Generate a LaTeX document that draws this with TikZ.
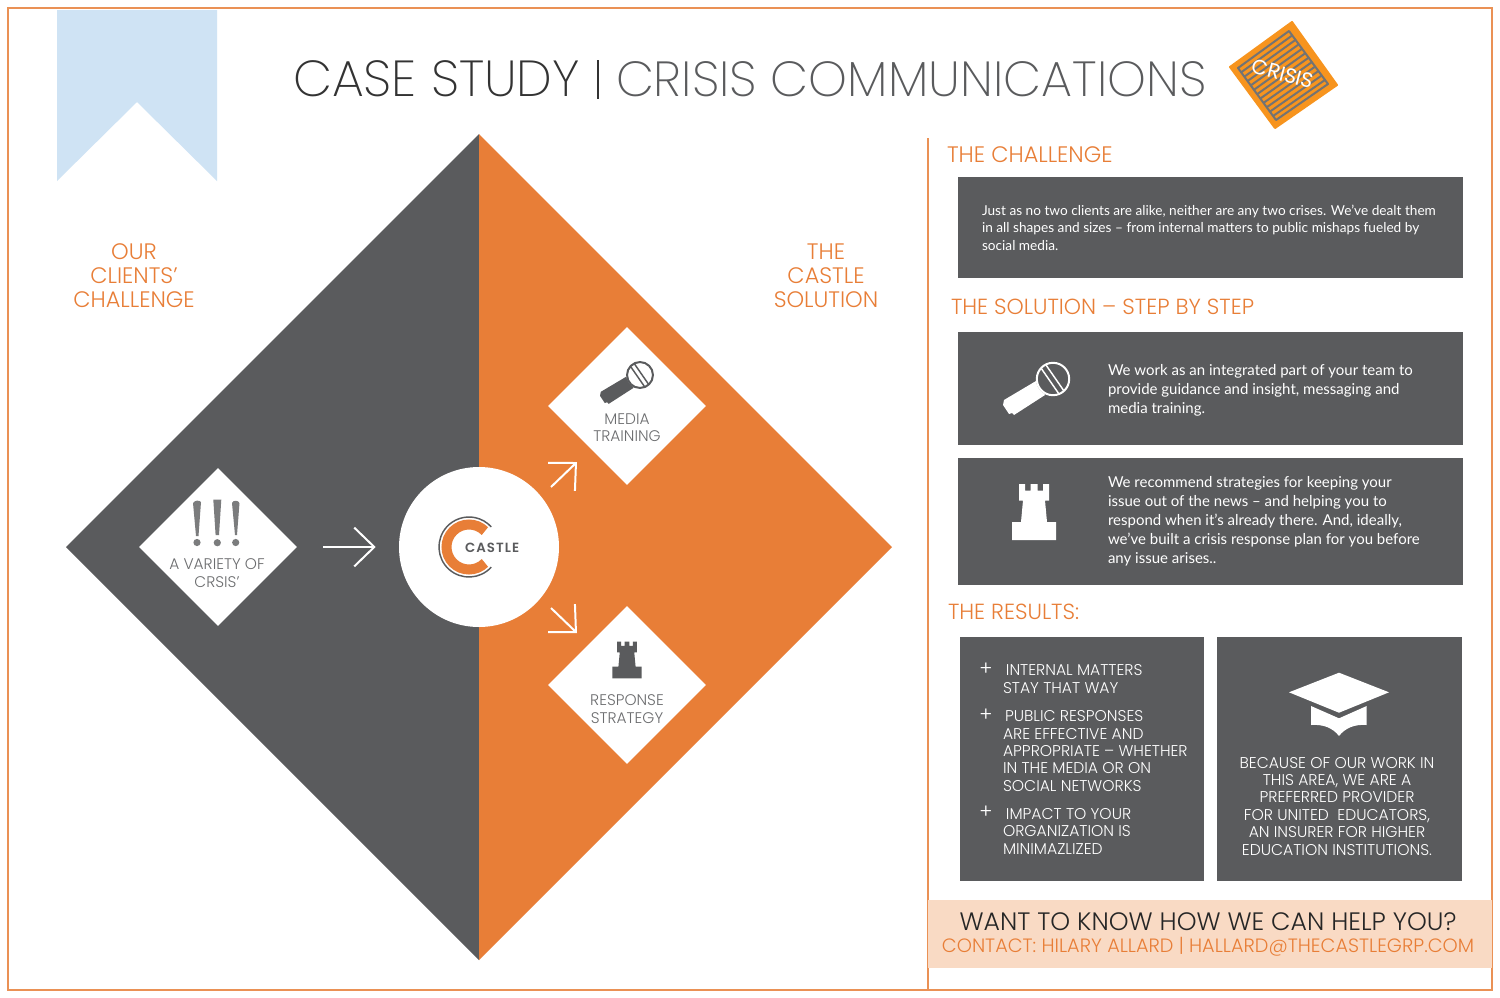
\documentclass[tikz,border=0pt]{standalone}
\usepackage{fontspec}
\usetikzlibrary{shapes.geometric,arrows.meta,calc}
\setmainfont{Lato}
\newfontfamily\headfont{Poppins}[UprightFont=* Light]
\newfontfamily\titlefont{Poppins}[UprightFont=* ExtraLight]
\newfontfamily\boldfont{Poppins}[UprightFont=* SemiBold,LetterSpace=8]
\newfontfamily\badgefont{Poppins}
\definecolor{slate}{HTML}{5A5B5D}
\definecolor{brand}{HTML}{E87E37}
\definecolor{framec}{HTML}{EA9155}
\definecolor{peach}{HTML}{F9DAC4}
\definecolor{ribbon}{HTML}{CFE3F4}
\definecolor{crisisor}{HTML}{F7941E}
\definecolor{labelgray}{HTML}{6C6D6F}
\tikzset{
  panel/.style={fill=slate,draw=none,inner sep=0pt},
  whitediamond/.style={diamond,aspect=1,fill=white,draw=none,inner sep=0pt,minimum width=118.5pt,minimum height=118.5pt},
  bigarrow/.style={draw=white,line width=1.5pt,-{Straight Barb[length=15pt,width=29pt,line width=1.5pt]}},
  txt/.style={inner sep=0pt,outer sep=0pt},
  headline/.style={txt,anchor=base west,text=brand,font=\headfont\fontsize{16.4}{18}\selectfont},
  sidelabel/.style={txt,align=center,text=brand,font=\headfont\fontsize{16.8}{18}\selectfont},
  diamondlabel/.style={txt,align=center,text=labelgray,font=\headfont\fontsize{11.55}{12.9}\selectfont},
  bodysmall/.style={txt,anchor=base west,align=left,text=white,font=\fontsize{10.24}{12.9}\selectfont},
  bodylarge/.style={txt,anchor=base west,align=left,text=white,font=\fontsize{11.26}{14.25}\selectfont},
  resulttext/.style={txt,anchor=base west,align=left,text=white,font=\headfont\fontsize{11.7}{12.95}\selectfont},
  resultcenter/.style={txt,anchor=base,align=center,text=white,font=\headfont\fontsize{11.7}{13.05}\selectfont},
}
\newcommand{\micicon}[5]{% x,y,scale,ink,hole
  \begin{scope}[shift={(#1,#2)},scale=#3]
    \fill[#4] (-17,2) -- (-8,16) -- (-39,36) -- (-41,34) -- (-44,35) -- (-50,26) -- (-49,21) -- cycle;
    \fill[#5] (0,0) circle (17);
    \draw[#4,line width=1.5pt] (0,0) circle (16.2);
    \draw[#4,line width=1.1pt] (-12,-11) -- (6,15) (-7,-14) -- (11,12);
  \end{scope}}
\newcommand{\towericon}[4]{% x,y,scale,ink
  \begin{scope}[shift={(#1,#2)},scale=#3]
    \fill[#4] (-22,28) -- (-22,10) -- (-13,10) -- (-11,-11.5) -- (-15,-11.5) -- (-15,-28) -- (-9,-28) -- (-9,-21.5) -- (-3.5,-21.5) -- (-3.5,-28) -- (3.5,-28) -- (3.5,-21.5) -- (9,-21.5) -- (9,-28) -- (15,-28) -- (15,-11.5) -- (11,-11.5) -- (13,10) -- (22,10) -- (22,28) -- cycle;
  \end{scope}}
\begin{document}
\begin{tikzpicture}[x=0.75pt,y=-0.75pt]
\useasboundingbox (0,0) rectangle (1500,997);
\fill[white] (0,0) rectangle (1500,997);
% frame, ribbon
\draw[framec,line width=1.1pt] (8,8) rectangle (1492,990);
\fill[ribbon] (57,10) -- (217,10) -- (217,181) -- (137,102) -- (57,181) -- cycle;
% title
\node[txt,anchor=base west,text=black!80,font=\titlefont\fontsize{38}{40}\selectfont] (titleA) at (293,96.5) {CASE STUDY};
\node[txt,anchor=base west,text=slate,font=\titlefont\fontsize{37}{40}\selectfont] (titleB) at (616,96.5) {CRISIS COMMUNICATIONS};
\draw[black!80,line width=1.2pt] (598,60) -- (598,99);
% crisis badge
\coordinate (bT) at (1292,22); \coordinate (bR) at (1337,85); \coordinate (bB) at (1275,128); \coordinate (bL) at (1230,67);
\fill[crisisor,draw=crisisor,line width=1.5pt,line join=round] (bT) -- (bR) -- (bB) -- (bL) -- cycle;
\coordinate (gT) at (1289,31); \coordinate (gR) at (1328,84); \coordinate (gB) at (1276,120); \coordinate (gL) at (1238,68);
\draw[gray!90!black,line width=1.5pt,line join=round] (gT) -- (gR) -- (gB) -- (gL) -- cycle;
\foreach \t in {0.083,0.167,...,0.95}
  \draw[gray!90!black,line width=1.5pt] ($(gL)!\t!(gB)$) -- ($(gT)!\t!(gR)$);
\node[txt,rotate=-15,text=white,font=\badgefont\fontsize{15.5}{18}\selectfont] (crisis) at (1283,74) {CRISIS};
% big diamond
\fill[slate] (479,134) -- (479,960) -- (66,547) -- cycle;
\fill[brand] (479,134) -- (892,547) -- (479,960) -- cycle;
\node[sidelabel,anchor=center] (ourlabel) at (134,276) {OUR\\CLIENTS’\\CHALLENGE};
\node[sidelabel,anchor=center] (castlelabel) at (826,276) {THE\\CASTLE\\SOLUTION};
% white shapes
\node[whitediamond] (variety) at (218,547) {};
\node[whitediamond] (media) at (627,406) {};
\node[whitediamond] (response) at (627,685) {};
\node[circle,fill=white,draw=none,inner sep=0pt,minimum size=120pt] (castle) at (479,547) {};
% exclamation marks
\begin{scope}
  \fill[slate!80!white] (193,503) .. controls (195,500) and (199,500) .. (201,502) -- (198.5,536) -- (196,536) -- cycle;
  \fill[slate!80!white] (213.3,499.5) -- (221.3,499.5) -- (219,535) -- (215.6,535) -- cycle;
  \fill[slate!80!white] (232,503) .. controls (233,500) and (238,500) .. (239.5,503) -- (237,535) -- (235,535) -- cycle;
  \fill[slate!80!white] (197,542.5) circle (3.6) (217.3,542.7) circle (3.6) (235.7,542.5) circle (3.6);
\end{scope}
\node[diamondlabel,anchor=center] (varietylabel) at (217,573) {A VARIETY OF\\CRSIS’};
\micicon{640}{375}{0.8}{slate}{white}
\node[diamondlabel,anchor=center] (medialabel) at (627,428) {MEDIA\\TRAINING};
\towericon{627}{660}{0.66}{slate}
\node[diamondlabel,anchor=center] (responselabel) at (627,709) {RESPONSE\\STRATEGY};
% castle logo
\draw[slate,line width=1.1pt] ($(469,547)+(42:30)$) arc[start angle=42,end angle=318,radius=30];
\draw[brand,line width=7.5pt] ($(469,547)+(45:22.5)$) arc[start angle=45,end angle=315,radius=22.5];
\node[txt,anchor=base west,text=slate,font=\boldfont\fontsize{10}{11}\selectfont] (castlename) at (465,552) {CASTLE};
% arrows
\draw[bigarrow,shorten <=19.5pt,shorten >=17.25pt] (variety) -- (castle);
\coordinate (upS) at (551,487); \coordinate (upE) at (577,462);
\coordinate (dnS) at (551,608); \coordinate (dnE) at (577,633);
\draw[bigarrow] (upS) -- (upE);
\draw[bigarrow] (dnS) -- (dnE);
% right column
\draw[framec,line width=1.1pt] (928,138) -- (928,990);
\node[headline,font=\headfont\fontsize{16.8}{18}\selectfont] (h1) at (947,162) {THE CHALLENGE};
\node[panel,minimum width=378.75pt,minimum height=75.75pt] (p1) at (1210.5,227.5) {};
\node[bodysmall] (p1text) at (982,250) {Just as no two clients are alike, neither are any two crises. We’ve dealt them\\in all shapes and sizes – from internal matters to public mishaps fueled by\\social media.};
\node[headline] (h2) at (951,314) {THE SOLUTION – STEP BY STEP};
\node[panel,minimum width=378.75pt,minimum height=84.75pt] (p2) at (1210.5,388.5) {};
\micicon{1053}{379}{1}{white}{slate}
\node[bodylarge] (p2text) at (1108,413) {We work as an integrated part of your team to\\provide guidance and insight, messaging and\\media training.};
\node[panel,minimum width=378.75pt,minimum height=95.25pt] (p3) at (1210.5,521.5) {};
\towericon{1034}{512}{1}{white}
\node[bodylarge] (p3text) at (1108,563) {We recommend strategies for keeping your\\issue out of the news – and helping you to\\respond when it’s already there. And, ideally,\\we’ve built a crisis response plan for you before\\any issue arises..};
\node[headline] (h3) at (948,619) {THE RESULTS:};
\node[panel,minimum width=183pt,minimum height=183pt] (p4) at (1082,759) {};
\node[panel,minimum width=183.75pt,minimum height=183pt] (p5) at (1339.5,759) {};
\foreach \n/\yy in {plusa/675,plusb/721,plusc/818}
  \node[resulttext,anchor=base,font=\headfont\fontsize{15}{16}\selectfont] (\n) at (986,\yy) {+};
\node[resulttext] (r1) at (1003,693) {\hspace{2.2pt}INTERNAL MATTERS\\STAY THAT WAY};
\node[resulttext] (r2) at (1003,791) {\hspace{1.5pt}PUBLIC RESPONSES\\ARE EFFECTIVE AND\\APPROPRIATE – WHETHER\\IN THE MEDIA OR ON\\SOCIAL NETWORKS};
\node[resulttext] (r3) at (1003,854) {\hspace{2.2pt}IMPACT TO YOUR\\ORGANIZATION IS\\MINIMAZLIZED};
% cap
\fill[white] (1339,672.7) -- (1389,692.3) -- (1339,712.7) -- (1289,692.3) -- cycle;
\fill[white] (1311,706) -- (1339,718.3) -- (1366.7,706) -- (1366.7,725) .. controls (1355,724) and (1345,728) .. (1339,736) .. controls (1333,728) and (1323,724) .. (1311,725) -- cycle;
\node[resultcenter] (r4) at (1337,855) {BECAUSE OF OUR WORK IN\\THIS AREA, WE ARE A\\PREFERRED PROVIDER\\FOR UNITED\ \ EDUCATORS,\\AN INSURER FOR HIGHER\\EDUCATION INSTITUTIONS.};
% footer
\node[panel,fill=peach,minimum width=423pt,minimum height=51pt] (foot) at (1210,934) {};
\node[txt,anchor=base,text=black!85,font=\headfont\fontsize{18.9}{20}\selectfont] (cta) at (1208,930) {WANT TO KNOW HOW WE CAN HELP YOU?};
\node[txt,anchor=base,text=brand,font=\headfont\fontsize{14.46}{17}\selectfont] (contact) at (1208,952) {CONTACT: HILARY ALLARD | HALLARD@THECASTLEGRP.COM};
\end{tikzpicture}
\end{document}
